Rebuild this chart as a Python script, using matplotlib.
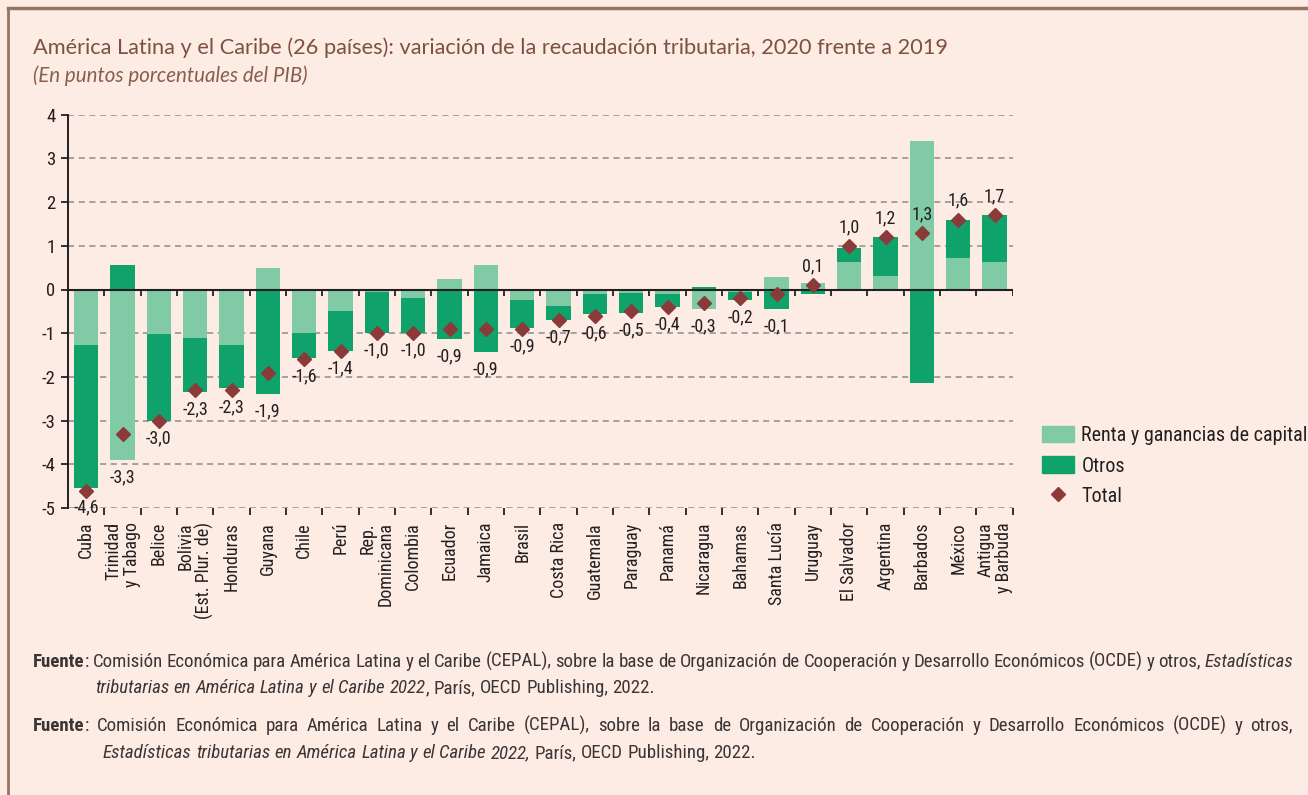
import matplotlib
matplotlib.use("Agg")
import matplotlib.pyplot as plt
import matplotlib.patches as mpatches
from matplotlib import font_manager
from matplotlib.lines import Line2D
import numpy as np

# Variación de la recaudación tributaria 2020 vs 2019 (puntos del PIB)
paises = ["Cuba", "Trinidad\ny Tabago", "Belice", "Bolivia\n(Est. Plur. de)", "Honduras",
          "Guyana", "Chile", "Perú", "Rep.\nDominicana", "Colombia", "Ecuador", "Jamaica",
          "Brasil", "Costa Rica", "Guatemala", "Paraguay", "Panamá", "Nicaragua", "Bahamas",
          "Santa Lucía", "Uruguay", "El Salvador", "Argentina", "Barbados", "México",
          "Antigua\ny Barbuda"]
renta = [-1.28, -3.90, -1.01, -1.10, -1.28, 0.50, -1.00, -0.50, -0.06, -0.20, 0.24, 0.55,
         -0.24, -0.37, -0.10, -0.07, -0.11, -0.44, -0.05, 0.28, 0.15, 0.64, 0.30, 3.39,
         0.72, 0.64]
otros = [-3.27, 0.55, -2.00, -1.25, -0.98, -2.40, -0.57, -0.90, -0.94, -0.80, -1.13, -1.43,
         -0.63, -0.33, -0.47, -0.46, -0.29, 0.06, -0.18, -0.44, -0.10, 0.30, 0.89, -2.13,
         0.86, 1.07]
total = [-4.6, -3.3, -3.0, -2.3, -2.3, -1.9, -1.6, -1.4, -1.0, -1.0, -0.9, -0.9, -0.9,
         -0.7, -0.6, -0.5, -0.4, -0.3, -0.2, -0.1, 0.1, 1.0, 1.2, 1.3, 1.6, 1.7]
yticks = [-5, -4, -3, -2, -1, 0, 1, 2, 3, 4]

FONDO = "#fdece4"
CLARO = "#80caa6"
OSCURO = "#10a26b"
ROMBO = "#8b3a3a"
TEXTO = "#231f20"
MARRON = "#7d5040"

instaladas = {f.name for f in font_manager.fontManager.ttflist}


def primera(candidatas):
    for c in candidatas:
        if c in instaladas:
            return c
    return "DejaVu Sans"


def fuente_estatica(nombres, estilo, peso=400):
    # evita las fuentes variables, cuyo ejemplar por defecto suele ser el más fino
    for nombre in nombres:
        for f in font_manager.fontManager.ttflist:
            if f.name == nombre and f.style == estilo and f.weight == peso and "[" not in f.fname:
                return font_manager.FontProperties(fname=f.fname), nombre
    return font_manager.FontProperties(family="Lato", style=estilo), "Lato"


ESTRECHA = primera(["Roboto Condensed", "Archivo Narrow", "Liberation Sans Narrow",
                    "Asap Condensed", "Barlow Semi Condensed"])
plt.rcParams["font.family"] = [ESTRECHA, "DejaVu Sans"]
fp_titulo, fam_titulo = fuente_estatica(["Raleway", "Montserrat"], "normal")
fp_sub, fam_sub = fuente_estatica(["Raleway", "Montserrat"], "italic")

W, H = 1308, 795
fig = plt.figure(figsize=(W / 100, H / 100), dpi=100, facecolor=FONDO)

# marco superior e izquierdo
fig.add_artist(Line2D([8 / W, 8 / W], [0, 1 - 8 / H], color="#957562", lw=2))
fig.add_artist(Line2D([8 / W, 1], [1 - 8 / H, 1 - 8 / H], color="#957562", lw=2.5))

ax = fig.add_axes([68 / W, 1 - 508 / H, (1012.7 - 68) / W, (508 - 114.7) / H])
ax.set_facecolor(FONDO)

x = np.arange(len(paises))
renta = np.array(renta)
otros = np.array(otros)
# la parte "otros" se apila sobre la renta sólo si tienen el mismo signo
base_otros = np.where(np.sign(renta) == np.sign(otros), renta, 0.0)

ax.bar(x, renta, width=0.67, color=CLARO, zorder=3)
ax.bar(x, otros, width=0.67, bottom=base_otros, color=OSCURO, zorder=3)
ax.plot(x, total, linestyle="none", marker="D", ms=7, color=ROMBO, zorder=5)

for xi, r, o, b, t in zip(x, renta, otros, base_otros, total):
    etiqueta = f"{t:.1f}".replace(".", ",")
    if t >= 0:
        ax.annotate(etiqueta, (xi, t), xytext=(0, 7), textcoords="offset points",
                    ha="center", va="bottom", fontsize=13, color=TEXTO, zorder=6)
    else:
        fondo = min(r, b + o, t)
        ax.annotate(etiqueta, (xi, fondo), xytext=(0, -6), textcoords="offset points",
                    ha="center", va="top", fontsize=13, color=TEXTO, zorder=6)

ax.set_xlim(-0.5, len(paises) - 0.5)
ax.set_ylim(-5, 4)

# rejilla discontinua y eje cero
for v in yticks:
    ax.axhline(v, color="#8c8c8c", lw=1.1, ls=(0, (4, 3)), zorder=1)
ax.axhline(0, color=TEXTO, lw=1.5, zorder=4)
limites = np.arange(len(paises) + 1) - 0.5
ax.vlines(limites[1:], -0.15, 0, color=TEXTO, lw=1.3, zorder=4)

for s in ["top", "right", "bottom"]:
    ax.spines[s].set_visible(False)
ax.spines["left"].set_color(TEXTO)
ax.spines["left"].set_linewidth(1.4)

ax.set_yticks(yticks)
ax.set_yticklabels([str(v) for v in yticks])
ax.tick_params(axis="y", length=5, width=1.3, color=TEXTO, pad=4, labelsize=13.5, labelcolor=TEXTO)

ax.set_xticks(limites[1:])
ax.set_xticklabels([])
ax.tick_params(axis="x", which="major", length=5, width=1.3, color=TEXTO, direction="out")
ax.set_xticks(x, minor=True)
ax.set_xticklabels(paises, minor=True, rotation=90, ha="center", va="top",
                   multialignment="right", fontsize=13, color=TEXTO, linespacing=1.0)
ax.tick_params(axis="x", which="minor", length=0, pad=10)

# leyenda a la derecha del gráfico
manejadores = [mpatches.Patch(color=CLARO, label="Renta y ganancias de capital"),
               mpatches.Patch(color=OSCURO, label="Otros"),
               Line2D([], [], linestyle="none", marker="D", ms=7.5, color=ROMBO, label="Total")]
fig.legend(handles=manejadores, loc="center left", bbox_to_anchor=(1042 / W, 1 - 466 / H),
           frameon=False, fontsize=14.5, handlelength=1.6, handleheight=0.85,
           handletextpad=0.35, labelspacing=0.55, borderpad=0, borderaxespad=0,
           labelcolor=TEXTO)

# títulos
fp_titulo.set_size(12.3 if fam_titulo != "Lato" else 15.7)
fp_sub.set_size(11.8 if fam_sub != "Lato" else 14.8)
fig.text(33 / W, 1 - 48 / H, "América Latina y el Caribe (26 países): variación de la recaudación "
         "tributaria, 2020 frente a 2019", fontproperties=fp_titulo, color=MARRON, va="center")
fig.text(33 / W, 1 - 76 / H, "(En puntos porcentuales del PIB)", fontproperties=fp_sub,
         color="#8a5e4c", va="center")


def escribir_linea(x0, y, piezas, x1=None, size=13.6):
    """Escribe una línea con tramos de estilo distinto, justificada si se da x1."""
    rend = fig.canvas.get_renderer()
    fichas = []
    for texto, estilo in piezas:
        for i, p in enumerate(texto.split(" ")):
            if p:
                fichas.append([p, estilo, i > 0])
    objs = []
    for p, estilo, _ in fichas:
        kw = {"weight": "bold"} if estilo == "b" else {"style": "italic"} if estilo == "i" else {}
        t = fig.text(0, 1 - y / H, p, fontsize=size, color="#3a3536", va="baseline", **kw)
        objs.append(t)
    anchos = [o.get_window_extent(rend).width for o in objs]
    prueba = fig.text(0, 0, "a a", fontsize=size)
    prueba2 = fig.text(0, 0, "aa", fontsize=size)
    espacio = prueba.get_window_extent(rend).width - prueba2.get_window_extent(rend).width
    prueba.remove()
    prueba2.remove()
    huecos = sum(1 for f in fichas if f[2])
    if x1 is not None and huecos:
        espacio = max((x1 - x0 - sum(anchos)) / huecos, 0.5 * espacio)
    pos = x0
    for o, a, f in zip(objs, anchos, fichas):
        if f[2]:
            pos += espacio
        o.set_x(pos / W)
        pos += a


fuente = " Comisión Económica para América Latina y el Caribe (CEPAL), sobre la base de " \
         "Organización de Cooperación y Desarrollo Económicos (OCDE) y otros,"
escribir_linea(33, 667, [("Fuente", "b"), (":" + fuente, "r"), (" Estadísticas", "i")], x1=1293)
escribir_linea(95, 693, [("tributarias en América Latina y el Caribe 2022", "i"),
                         (", París, OECD Publishing, 2022.", "r")])
escribir_linea(33, 731, [("Fuente", "b"), (":" + fuente, "r")], x1=1293)
escribir_linea(103, 758, [("Estadísticas tributarias en América Latina y el Caribe 2022,", "i"),
                          (" París, OECD Publishing, 2022.", "r")])

fig.savefig("out.png", dpi=100, facecolor=FONDO)
